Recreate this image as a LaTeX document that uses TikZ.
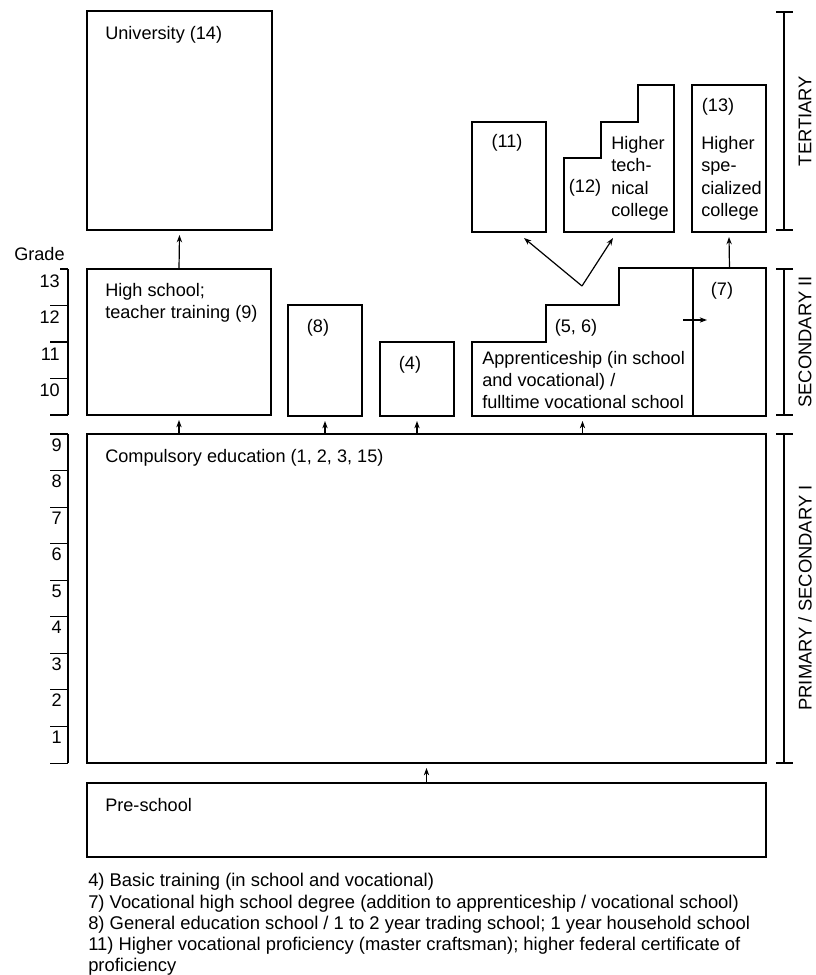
\documentclass[tikz,border=0pt]{standalone}
\usepackage{fontspec}
\setmainfont{Liberation Sans}
\usetikzlibrary{arrows.meta,fit}
\begin{document}
\begin{tikzpicture}[x=0.75pt,y=-0.75pt,
  box/.style={draw,line width=1.4pt,inner sep=0pt,outer sep=0pt},
  shp/.style={draw,line width=1.4pt,line join=miter},
  arr/.style={line width=0.9pt,-{Stealth[length=5.5pt,width=4pt]}},
  scl/.style={line width=0.8pt},
  txt/.style={anchor=base west,inner sep=0pt,font=\fontsize{13.6}{16}\selectfont},
  foot/.style={anchor=base west,inner sep=0pt,font=\fontsize{13.8}{16}\selectfont},
  lbl/.style={inner sep=0pt,font=\fontsize{13.6}{16}\selectfont},
  num/.style={anchor=base east,inner sep=0pt,font=\fontsize{13.6}{16}\selectfont},
  side/.style={inner sep=0pt,rotate=90,font=\fontsize{13.8}{16}\selectfont}
  ]
\useasboundingbox (0,0) rectangle (816,975);

% boxes
\node[box,fit={(87,11)(272,230)}] (uni) {};
\node[box,fit={(87,269)(271,415)}] (hs) {};
\node[box,fit={(288,305)(362,416)}] (b8) {};
\node[box,fit={(380,342)(454,416)}] (b4) {};
\node[box,fit={(472,122)(546,232)}] (b11) {};
\node[box,fit={(692,85)(766,232)}] (b13) {};
\node[box,fit={(693,268)(766,416)}] (b7) {};
\node[box,fit={(87,434)(766,763)}] (comp) {};
\node[box,fit={(87,783)(766,857)}] (pre) {};

% step shapes
\draw[shp] (472,416) -- (472,342) -- (546,342) -- (546,305) -- (619,305)
  -- (619,268) -- (693,268) -- (693,416) -- cycle;
\draw[shp] (564,232) -- (564,158) -- (601,158) -- (601,122) -- (638,122)
  -- (638,85) -- (674,85) -- (674,232) -- cycle;
\coordinate (app) at (582.5,416);
\coordinate (b12) at (613,232);
\coordinate (vtip) at (582,286);

% texts
\node[txt] (tuni) at (105,39) {University (14)};
\node[txt] (ths1) at (105,296) {High school;};
\node[txt] (ths2) at (105,318) {teacher training (9)};
\node[lbl] (t8) at (318,328) {(8)};
\node[lbl] (t4) at (410,365) {(4)};
\node[lbl] (t11) at (507,143) {(11)};
\node[lbl] (t12) at (585,188) {(12)};
\node[txt] (t12a) at (611,149) {Higher};
\node[txt] (t12b) at (611,171) {tech-};
\node[txt] (t12c) at (611,194) {nical};
\node[txt] (t12d) at (611,216) {college};
\node[lbl] (t13) at (718,107) {(13)};
\node[txt] (t13a) at (701,149) {Higher};
\node[txt] (t13b) at (701,171) {spe-};
\node[txt] (t13c) at (701,194) {cialized};
\node[txt] (t13d) at (701,216) {college};
\node[lbl] (t7) at (722,291) {(7)};
\node[lbl] (t56) at (576,328) {(5, 6)};
\node[txt] (tap1) at (482,364) {Apprenticeship (in school};
\node[txt] (tap2) at (482,386) {and vocational) /};
\node[txt] (tap3) at (482,408) {fulltime vocational school};
\node[txt] (tcomp) at (105,462) {Compulsory education (1, 2, 3, 15)};
\node[txt] (tpre) at (105,811) {Pre-school};
\node[txt] (grade) at (14,260) {Grade};

% arrows
\draw[arr] (hs.north) -- ([yshift=-5*0.75pt]uni.south);
\draw[arr] (comp.north -| hs.south) -- ([yshift=-5*0.75pt]hs.south);
\draw[arr] (comp.north -| b8.south) -- ([yshift=-5*0.75pt]b8.south);
\draw[arr] (comp.north -| b4.south) -- ([yshift=-5*0.75pt]b4.south);
\draw[arr] (comp.north -| app) -- ([yshift=-5*0.75pt]app);
\draw[arr] (pre.north) -- ([yshift=-5*0.75pt]comp.south);
\draw[arr] (b7.north) -- ([yshift=-5*0.75pt]b13.south);
\coordinate (a11) at (524,238);
\coordinate (a12) at (613,238);
\draw[arr] (vtip) -- (a11);
\draw[arr] (vtip) -- (a12);
\coordinate (s1) at (683,320);
\coordinate (s2) at (707,320);
\draw[arr] (s1) -- (s2);

% grade scales
\draw[scl] (68,269) -- (68,415);
\draw[scl] (60,269) -- (68,269);
\foreach \t in {305.5,342,378.5,415} \draw[scl] (50,\t) -- (68,\t);
\node[num] (g13) at (60,287) {13};
\node[num] (g12) at (60,323.5) {12};
\node[num] (g11) at (60,360) {11};
\node[num] (g10) at (60,396.5) {10};
\draw[scl] (68,434) -- (68,763);
\foreach \k in {0,...,9} \draw[scl] (50,434+\k*36.56) -- (68,434+\k*36.56);
\foreach \k/\n in {0/9,1/8,2/7,3/6,4/5,5/4,6/3,7/2,8/1}
  \node[num] (gp\n) at (62,451+\k*36.56) {\n};

% side brackets
\draw[scl] (784,12) -- (784,230) (776,12) -- (793,12) (776,230) -- (793,230);
\draw[scl] (784,269) -- (784,415) (776,269) -- (793,269) (776,415) -- (793,415);
\draw[scl] (784,434) -- (784,763) (776,434) -- (793,434) (776,763) -- (793,763);
\node[side] (ster) at (805,121) {TERTIARY};
\node[side] (ssec) at (805,342) {SECONDARY II};
\node[side] (sprim) at (805,598) {PRIMARY / SECONDARY I};

% footnotes
\node[foot] (f1) at (88,886) {4) Basic training (in school and vocational)};
\node[foot] (f2) at (88,908) {7) Vocational high school degree (addition to apprenticeship / vocational school)};
\node[foot] (f3) at (88,929) {8) General education school / 1 to 2 year trading school; 1 year household school};
\node[foot] (f4) at (88,950) {11) Higher vocational proficiency (master craftsman); higher federal certificate of};
\node[foot] (f5) at (88,971) {proficiency};
\end{tikzpicture}
\end{document}
